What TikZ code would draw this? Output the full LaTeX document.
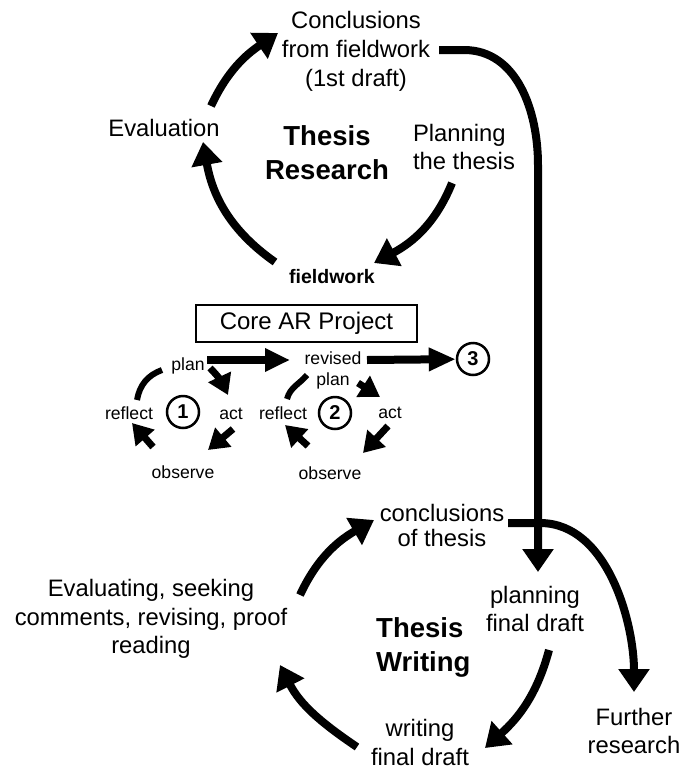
\documentclass[tikz,border=0pt]{standalone}
\usepackage{fontspec}
\setmainfont{Liberation Sans}
\usetikzlibrary{arrows.meta}

\begin{document}
\begin{tikzpicture}[x=1pt,y=1pt,>={Triangle[width=30pt,length=23pt]}]
  \tikzstyle{every node}=[inner sep=0pt,align=center,font=\fontsize{23.8}{29}\selectfont]
  \tikzstyle{title}=[font=\fontsize{27.5}{34}\selectfont\bfseries]
  \tikzstyle{small}=[font=\fontsize{17.6}{21}\selectfont]
  \tikzstyle{num}=[circle,draw,line width=2.5pt,minimum size=32pt,font=\fontsize{20}{24}\selectfont\bfseries]
  \tikzstyle{big}=[->,line width=8pt]
  \tikzstyle{short}=[-{Triangle[width=24pt,length=20pt]},line width=7pt]

  \useasboundingbox (0,0) rectangle (683,-769);

  % thesis research
  \node (concl) at (356,-51) {Conclusions\\from fieldwork\\(1st draft)};
  \node (eval) at (164,-128) {Evaluation};
  \node[title] (resT) at (327,-153) {Thesis\\Research};
  \node[align=left,font=\fontsize{23.8}{28}\selectfont] (plan) at (464,-147) {Planning\\the thesis};
  \node[font=\fontsize{19.5}{20}\selectfont\bfseries] (field) at (332,-277) {fieldwork};

  \path[big] ([shift={(47,22)}]eval.center) edge[out=65,in=214] ([shift={(-78,18)}]concl.center)
             ([shift={(-12,-36)}]plan.center) edge[out=248,in=28] ([shift={(42,14)}]field.center)
             ([shift={(-57,15)}]field.center) edge[out=145,in=280] ([shift={(39,-14)}]eval.center);

  % core project
  \node[draw,line width=1.2pt,minimum width=221pt,minimum height=37pt,
        font=\fontsize{24}{29}\selectfont] (core) at (306.5,-323.5) {Core AR Project};

  \node[small] (planA) at (188,-366) {plan};
  \node[small] (reflA) at (129,-413) {reflect};
  \node[num] (one) at (183,-412) {1};
  \node[small] (actA) at (231,-414) {act};
  \node[small] (obsA) at (183,-472) {observe};

  \node[small] (rev) at (333,-370) {revised\\plan};
  \node[small] (reflB) at (283,-413) {reflect};
  \node[num] (two) at (335,-413) {2};
  \node[small] (actB) at (390,-413) {act};
  \node[small] (obsB) at (330,-473) {observe};
  \node[num] (three) at (473,-359) {3};

  \draw[big,-{Triangle[width=22pt,length=25pt]}] ([shift={(19,6)}]planA.center) -- ([shift={(-43,10)}]rev.center);
  \draw[big,-{Triangle[width=22pt,length=27pt]}] ([shift={(34,10)}]rev.center) -- (three);

  \path[short] ([shift={(22,-2)}]planA.center) edge[out=-45,in=115] ([shift={(-3,19)}]actA.center)
               ([shift={(2,-15)}]actA.center) edge ([shift={(25,22)}]obsA.center)
               ([shift={(-30,25)}]obsA.center) edge ([shift={(3,-10)}]reflA.center)
               ([shift={(25,-13)}]rev.center) edge ([shift={(-10,16)}]actB.center)
               ([shift={(-2,-13)}]actB.center) edge ([shift={(33,20)}]obsB.center)
               ([shift={(-22,27)}]obsB.center) edge ([shift={(2,-12)}]reflB.center);
  \draw[line width=6pt] ([shift={(8,13)}]reflA.center) to[out=80,in=200] ([shift={(-26,-4)}]planA.center);
  \draw[line width=6pt] ([shift={(4,14)}]reflB.center) to[out=75,in=230] ([shift={(-26,-5)}]rev.center);

  % thesis writing
  \node[font=\fontsize{23.8}{25}\selectfont] (concB) at (442,-525) {conclusions\\of thesis};
  \node[font=\fontsize{23.8}{28}\selectfont] (pfd) at (535,-609) {planning\\final draft};
  \node[title,align=left,anchor=west] (resW) at (376,-647) {Thesis\\Writing};
  \node (wfd) at (420,-742) {writing\\final draft};
  \node[font=\fontsize{23.8}{28.5}\selectfont] (ev2) at (151,-619) {Evaluating, seeking\\comments, revising, proof\\reading};
  \node[font=\fontsize{23.8}{28}\selectfont] (fr) at (634,-731) {Further\\research};

  \draw[big] ([shift={(83,1)}]concl.center) -- ++(25,0) to[out=0,in=90] ++(74,-115)
             -- ([shift={(3,37)}]pfd.center);
  \draw[big] ([shift={(66,2)}]concB.center) -- ++(32,0) to[out=0,in=90,looseness=0.9]
             ([shift={(0,39)}]fr.center);

  \path[big] ([shift={(149,24)}]ev2.center) edge[out=65,in=210] ([shift={(-68,5)}]concB.center)
             ([shift={(14,-41)}]pfd.center) edge[out=255,in=42] ([shift={(65,-6)}]wfd.center)
             ([shift={(-63,-5)}]wfd.center) edge[out=146,in=297] ([shift={(129,-46)}]ev2.center);
\end{tikzpicture}
\end{document}
